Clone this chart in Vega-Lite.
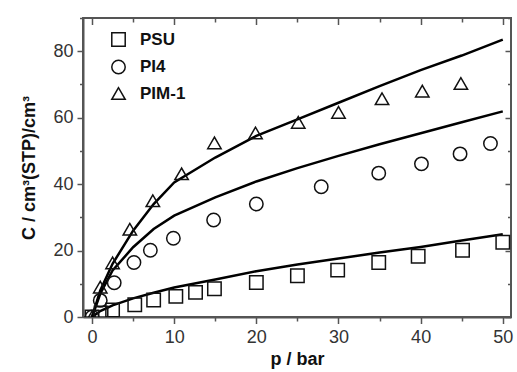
{
  "$schema": "https://vega.github.io/schema/vega-lite/v6.json",
  "width": 428,
  "height": 299,
  "autosize": "none",
  "padding": {"left": 83, "top": 18, "right": 6, "bottom": 55},
  "background": "white",
  "config": {
    "view": {"stroke": "#555", "strokeWidth": 2},
    "axis": {
      "grid": false,
      "domainColor": "#555",
      "domainWidth": 2,
      "tickColor": "#555",
      "tickWidth": 1.5,
      "labelFont": "Liberation Sans",
      "labelFontSize": 18,
      "labelColor": "#333",
      "titleFont": "Liberation Sans",
      "titleFontSize": 18,
      "titleFontWeight": "bold",
      "titleColor": "#111"
    }
  },
  "datasets": {
    "pts": [
      {"series": "PSU", "p": 0, "C": 0},
      {"series": "PSU", "p": 1.1, "C": 1.2},
      {"series": "PSU", "p": 2.5, "C": 2.1},
      {"series": "PSU", "p": 5.2, "C": 3.7},
      {"series": "PSU", "p": 7.5, "C": 5.1},
      {"series": "PSU", "p": 10.2, "C": 6.2},
      {"series": "PSU", "p": 12.6, "C": 7.4},
      {"series": "PSU", "p": 14.9, "C": 8.5},
      {"series": "PSU", "p": 20, "C": 10.4},
      {"series": "PSU", "p": 25, "C": 12.4},
      {"series": "PSU", "p": 29.9, "C": 14.1},
      {"series": "PSU", "p": 34.9, "C": 16.4},
      {"series": "PSU", "p": 39.7, "C": 18.3},
      {"series": "PSU", "p": 45.1, "C": 20.1},
      {"series": "PSU", "p": 50, "C": 22.5},
      {"series": "PI4", "p": 0, "C": 0},
      {"series": "PI4", "p": 1.0, "C": 5.0},
      {"series": "PI4", "p": 2.7, "C": 10.3},
      {"series": "PI4", "p": 5.1, "C": 16.4},
      {"series": "PI4", "p": 7.1, "C": 20.1},
      {"series": "PI4", "p": 9.9, "C": 23.7},
      {"series": "PI4", "p": 14.8, "C": 29.2},
      {"series": "PI4", "p": 20, "C": 34.0},
      {"series": "PI4", "p": 27.9, "C": 39.2},
      {"series": "PI4", "p": 34.9, "C": 43.3},
      {"series": "PI4", "p": 40.1, "C": 46.1},
      {"series": "PI4", "p": 44.8, "C": 49.1},
      {"series": "PI4", "p": 48.5, "C": 52.2},
      {"series": "PIM-1", "p": 0, "C": 0},
      {"series": "PIM-1", "p": 1.0, "C": 9.0},
      {"series": "PIM-1", "p": 2.5, "C": 16.3},
      {"series": "PIM-1", "p": 4.6, "C": 26.4},
      {"series": "PIM-1", "p": 7.4, "C": 35.0},
      {"series": "PIM-1", "p": 10.9, "C": 43.1},
      {"series": "PIM-1", "p": 14.9, "C": 52.4},
      {"series": "PIM-1", "p": 19.9, "C": 55.4},
      {"series": "PIM-1", "p": 25.1, "C": 58.6},
      {"series": "PIM-1", "p": 30.0, "C": 61.6},
      {"series": "PIM-1", "p": 35.3, "C": 65.7},
      {"series": "PIM-1", "p": 40.2, "C": 68.0},
      {"series": "PIM-1", "p": 44.9, "C": 70.3}
    ],
    "fit": [
      {"series": "PSU", "p": 0, "C": 0},
      {"series": "PSU", "p": 1, "C": 1.8},
      {"series": "PSU", "p": 2.5, "C": 3.5},
      {"series": "PSU", "p": 5, "C": 5.6},
      {"series": "PSU", "p": 7.5, "C": 7.3},
      {"series": "PSU", "p": 10, "C": 8.9},
      {"series": "PSU", "p": 15, "C": 11.3},
      {"series": "PSU", "p": 20, "C": 13.8},
      {"series": "PSU", "p": 25, "C": 15.8},
      {"series": "PSU", "p": 30, "C": 17.6},
      {"series": "PSU", "p": 35, "C": 19.4},
      {"series": "PSU", "p": 40, "C": 21.1},
      {"series": "PSU", "p": 45, "C": 23.0},
      {"series": "PSU", "p": 50, "C": 24.9},
      {"series": "PI4", "p": 0, "C": 0},
      {"series": "PI4", "p": 1, "C": 7},
      {"series": "PI4", "p": 2.5, "C": 14},
      {"series": "PI4", "p": 5, "C": 21},
      {"series": "PI4", "p": 7.5, "C": 26.5},
      {"series": "PI4", "p": 10, "C": 30.5},
      {"series": "PI4", "p": 15, "C": 36},
      {"series": "PI4", "p": 20, "C": 40.8},
      {"series": "PI4", "p": 25, "C": 44.8},
      {"series": "PI4", "p": 30, "C": 48.5},
      {"series": "PI4", "p": 35, "C": 52},
      {"series": "PI4", "p": 40, "C": 55.3},
      {"series": "PI4", "p": 45, "C": 58.6},
      {"series": "PI4", "p": 50, "C": 61.9},
      {"series": "PIM-1", "p": 0, "C": 0},
      {"series": "PIM-1", "p": 1, "C": 8},
      {"series": "PIM-1", "p": 2.5, "C": 16},
      {"series": "PIM-1", "p": 5, "C": 26},
      {"series": "PIM-1", "p": 7.5, "C": 34},
      {"series": "PIM-1", "p": 10, "C": 40.5},
      {"series": "PIM-1", "p": 15, "C": 48},
      {"series": "PIM-1", "p": 20, "C": 54.5},
      {"series": "PIM-1", "p": 25, "C": 59.5},
      {"series": "PIM-1", "p": 30, "C": 64.5},
      {"series": "PIM-1", "p": 35, "C": 69.5},
      {"series": "PIM-1", "p": 40, "C": 74.3},
      {"series": "PIM-1", "p": 45, "C": 78.7},
      {"series": "PIM-1", "p": 50, "C": 83.5}
    ]
  },
  "layer": [
    {
      "data": {"name": "fit"},
      "mark": {"type": "line", "color": "#000", "strokeWidth": 2.5, "clip": true},
      "encoding": {
        "x": {"field": "p", "type": "quantitative", "scale": {"domain": [-1.1, 51], "nice": false, "zero": false},
          "axis": {"orient": "bottom", "title": "p / bar", "values": [0,5,10,15,20,25,30,35,40,45,50],
            "labelExpr": "datum.value % 10 === 0 ? datum.label : ''",
            "tickSize": {"expr": "datum.value % 10 === 0 ? 6.5 : 4"},
            "labelPadding": 5, "titlePadding": 4}},
        "y": {"field": "C", "type": "quantitative", "scale": {"domain": [0, 90], "nice": false},
          "axis": {"orient": "left", "title": "C / cm³(STP)/cm³", "values": [0,10,20,30,40,50,60,70,80,90],
            "labelExpr": "datum.value % 20 === 0 && datum.value < 90 ? datum.label : ''",
            "tickSize": {"expr": "datum.value % 20 === 0 ? 6 : 3.5"},
            "labelPadding": 4, "titlePadding": 14}},
        "detail": {"field": "series"}
      }
    },
    {
      "data": {"name": "pts"},
      "mark": {"type": "point", "filled": false, "stroke": "#111", "strokeWidth": 1.5, "size": 180, "clip": true, "opacity": 1},
      "encoding": {
        "x": {"field": "p", "type": "quantitative",
          "axis": {"orient": "top", "title": null, "labels": false, "domain": false, "values": [0,5,10,15,20,25,30,35,40,45,50],
            "tickSize": {"condition": {"test": "datum.value % 10 === 0", "value": -6.5}, "value": -4}}},
        "y": {"field": "C", "type": "quantitative",
          "axis": {"orient": "right", "title": null, "labels": false, "domain": false, "values": [0,10,20,30,40,50,60,70,80,90],
            "tickSize": {"condition": {"test": "datum.value % 20 === 0", "value": -6}, "value": -3.5}}},
        "shape": {"field": "series", "type": "nominal",
          "scale": {"domain": ["PSU", "PI4", "PIM-1"], "range": ["square", "circle", "triangle-up"]},
          "legend": {"orient": "none", "legendX": 27, "legendY": 13, "title": null, "padding": 0,
            "labelFont": "Liberation Sans", "labelFontSize": 17, "labelFontWeight": "bold", "labelColor": "#111",
            "symbolSize": 180, "symbolStrokeWidth": 1.5, "symbolStrokeColor": "#111", "symbolFillColor": "transparent",
            "labelOffset": 13, "rowPadding": 6.5}}
      }
    }
  ],
  "resolve": {"axis": {"x": "independent", "y": "independent"}}
}
